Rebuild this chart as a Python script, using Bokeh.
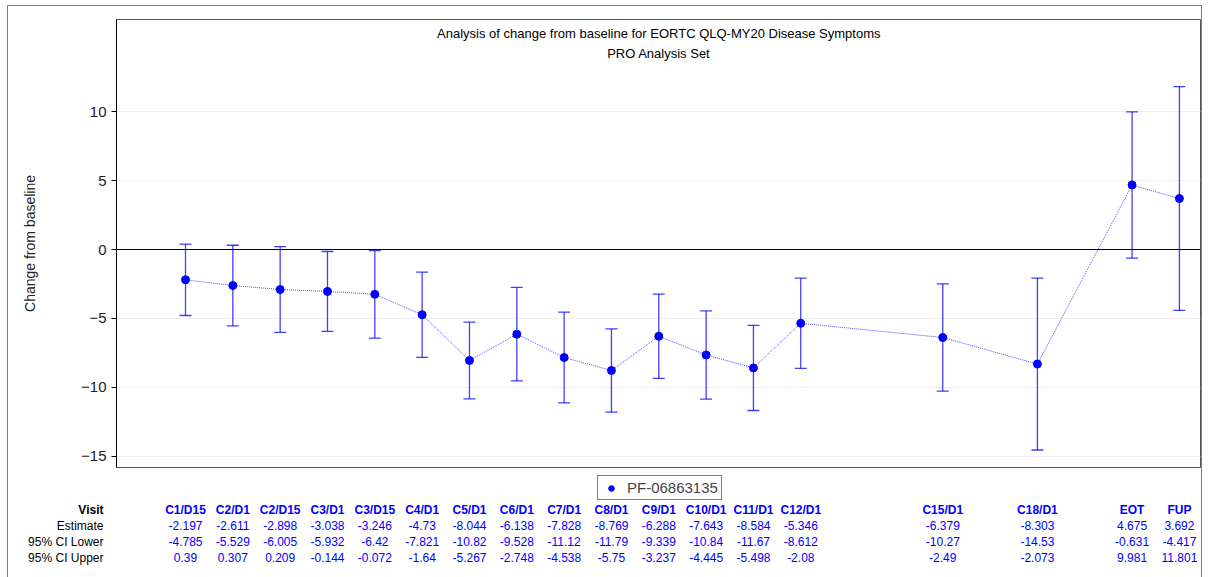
from bokeh.plotting import figure
from bokeh.layouts import column
from bokeh.models import (ColumnDataSource, Whisker, TeeHead, Label, Legend,
                          LegendItem, FixedTicker, Span)
from bokeh.core.properties import value
from bokeh.embed import file_html
from bokeh.resources import INLINE

visits = ["C1/D15", "C2/D1", "C2/D15", "C3/D1", "C3/D15", "C4/D1", "C5/D1", "C6/D1", "C7/D1",
          "C8/D1", "C9/D1", "C10/D1", "C11/D1", "C12/D1", "C15/D1", "C18/D1", "EOT", "FUP"]
visit_pos = [0, 1, 2, 3, 4, 5, 6, 7, 8, 9, 10, 11, 12, 13, 16, 18, 20, 21]
estimate = [-2.197, -2.611, -2.898, -3.038, -3.246, -4.73, -8.044, -6.138, -7.828, -8.769,
            -6.288, -7.643, -8.584, -5.346, -6.379, -8.303, 4.675, 3.692]
ci_lower = [-4.785, -5.529, -6.005, -5.932, -6.42, -7.821, -10.82, -9.528, -11.12, -11.79,
            -9.339, -10.84, -11.67, -8.612, -10.27, -14.53, -0.631, -4.417]
ci_upper = [0.39, 0.307, 0.209, -0.144, -0.072, -1.64, -5.267, -2.748, -4.538, -5.75,
            -3.237, -4.445, -5.498, -2.08, -2.49, -2.073, 9.981, 11.801]
y_ticks = [-15, -10, -5, 0, 5, 10]
series_name = "PF-06863135"
title_lines = ["Analysis of change from baseline for EORTC QLQ-MY20 Disease Symptoms",
               "PRO Analysis Set"]
row_names = ["Visit", "Estimate", "95% CI Lower", "95% CI Upper"]

FONT = "Liberation Sans"
BLUE = "#0000ff"

src = ColumnDataSource(dict(x=visit_pos, est=estimate, lo=ci_lower, hi=ci_upper,
                            visit=visits,
                            est_t=[str(v) for v in estimate],
                            lo_t=[str(v) for v in ci_lower],
                            hi_t=[str(v) for v in ci_upper]))

# ---------------- main plot ----------------
p = figure(width=1193, height=463, x_range=(-1.458, 21.446), y_range=(-15.8, 16.67),
           output_backend="svg", toolbar_location=None,
           min_border_left=108, min_border_top=13, min_border_right=1, min_border_bottom=2)
p.frame_align = False
p.outline_line_color = "#555555"
p.outline_line_width = 1
p.xaxis.visible = False
p.xgrid.visible = False
p.ygrid.grid_line_color = "#eeeeee"
p.ygrid.ticker = FixedTicker(ticks=y_ticks)
p.yaxis.ticker = FixedTicker(ticks=y_ticks)
p.yaxis.minor_tick_line_color = None
p.yaxis.major_tick_out = 5
p.yaxis.major_tick_in = 0
p.yaxis.axis_line_color = "black"
p.yaxis.major_tick_line_color = "black"
p.yaxis.major_label_text_font = FONT
p.yaxis.major_label_text_font_size = "15px"
p.yaxis.major_label_text_color = "#222222"
p.yaxis.axis_label = "Change from baseline"
p.yaxis.axis_label_text_font = FONT
p.yaxis.axis_label_text_font_size = "14px"
p.yaxis.axis_label_text_font_style = "normal"
p.yaxis.axis_label_text_color = "#222222"
p.yaxis.axis_label_standoff = 40

p.add_layout(Span(location=0, dimension="width", line_color="black", line_width=1))

wh = Whisker(base="x", upper="hi", lower="lo", source=src, line_color=BLUE, line_alpha=0.75,
             line_width=1.3,
             upper_head=TeeHead(size=12, line_color=BLUE, line_alpha=0.75, line_width=1.3),
             lower_head=TeeHead(size=12, line_color=BLUE, line_alpha=0.75, line_width=1.3))
p.add_layout(wh)

p.line("x", "est", source=src, line_color=BLUE, line_width=1, line_dash="1 1", line_alpha=0.7)
p.scatter("x", "est", source=src, size=8, color=BLUE)

for i, t in enumerate(title_lines):
    p.add_layout(Label(x=10, y=15.65 - i * 1.45, text=t, text_align="center",
                       text_baseline="middle", text_font=FONT, text_font_size="13px",
                       text_color="black"))

# ---------------- table below ----------------
# frame covers the whole strip; y range placed well above the estimate values so the
# legend's source renderer draws nothing inside the strip
t = figure(width=1193, height=108, x_range=(-3.740, 21.466), y_range=(100, 208),
           output_backend="svg", toolbar_location=None,
           min_border_left=0, min_border_right=0, min_border_top=0, min_border_bottom=0)
t.frame_align = False
t.axis.visible = False
t.grid.visible = False
t.outline_line_color = None

row_y = [168, 152, 136, 120]
cols = ["visit", "est_t", "lo_t", "hi_t"]
t.text(x="x", y="y", text="text",
       source=ColumnDataSource(dict(x=[-1.733], y=[row_y[0]], text=[row_names[0]])),
       text_align="right", text_baseline="middle", text_font=value(FONT),
       text_font_size="12px", text_color="black", text_font_style="bold")
t.text(x="x", y="y", text="text",
       source=ColumnDataSource(dict(x=[-1.733] * 3, y=row_y[1:], text=row_names[1:])),
       text_align="right", text_baseline="middle", text_font=value(FONT),
       text_font_size="12px", text_color="black")
for i, col in enumerate(cols):
    t.text(x="x", y=row_y[i], text=col, source=src, text_align="center",
           text_baseline="middle", text_font=value(FONT), text_font_size="12px",
           text_color=BLUE, text_font_style="bold" if i == 0 else "normal")

leg_r = t.scatter("x", "est", source=src, size=8, color=BLUE)
legend = Legend(items=[LegendItem(label=series_name, renderers=[leg_r])], location=(589, 77),
                orientation="horizontal", margin=0, padding=3, spacing=0,
                border_line_color="black", border_line_width=1,
                label_text_font=FONT, label_text_font_size="15px",
                glyph_width=20, glyph_height=14, label_standoff=6)
t.add_layout(legend, "center")

layout = column(p, t, spacing=0, margin=(5, 0, 0, 7),
                styles={"border-left": "1px solid #7f7f7f", "border-top": "1px solid #7f7f7f",
                        "border-right": "1px solid #7f7f7f"})

open("out.html", "w").write(file_html(layout, INLINE))
